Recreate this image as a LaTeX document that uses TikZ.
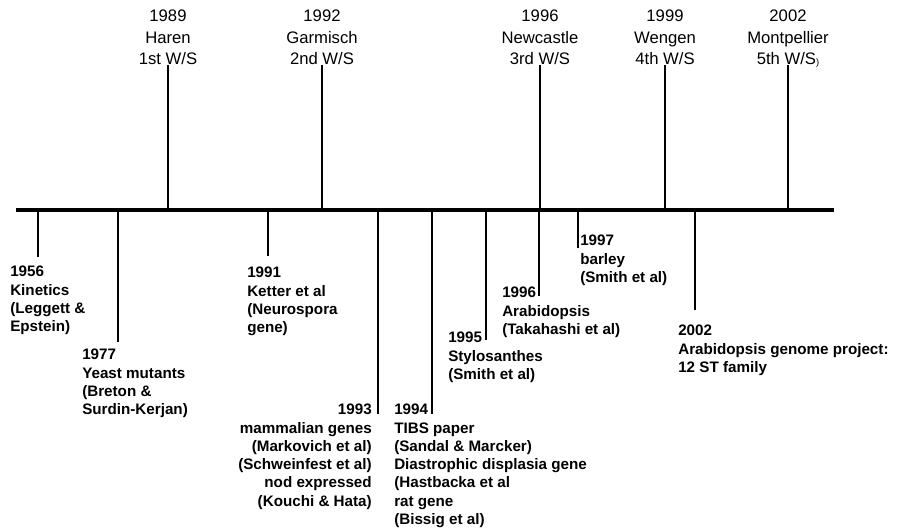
\documentclass[tikz,border=0pt]{standalone}
\usepackage{fontspec}
\setmainfont{Liberation Sans}
\begin{document}
\begin{tikzpicture}[
  x=0.75pt, y=-0.75pt,
  axis/.style = {line width=2.3pt},
  tick/.style = {line width=2pt},
  every node/.style = {inner sep=0pt},
  meeting/.style = {anchor=south, align=center, font=\fontsize{12.5}{16}\selectfont},
  event/.style = {anchor=north west, align=left, font=\bfseries\fontsize{11.4}{13.7}\selectfont}
]
  \useasboundingbox (0,0) rectangle (898,531);
  \coordinate (axL) at (16,210);
  \coordinate (axR) at (834,210);
  \draw[axis] (axL) -- (axR);

  \node[meeting] (w89) at (168,65) {1989\\Haren\\1st W/S};
  \node[meeting] (w92) at (322,65) {1992\\Garmisch\\2nd W/S};
  \node[meeting] (w96) at (540,65) {1996\\Newcastle\\3rd W/S};
  \node[meeting] (w99) at (665,65) {1999\\Wengen\\4th W/S};
  \node[meeting] (w02) at (788,65) {2002\\Montpellier\\5th W/S\raisebox{-1pt}[0pt][0pt]{\scriptsize)}};
  \foreach \w in {w89,w92,w96,w99,w02}
    \draw[tick] (\w.south) -- (\w.south |- axL);

  \foreach \n/\x/\y in {56/38/257, 77/118/342, 91/268/256, 93/378/414, 94/432/414,
                        95/486/340, 96/539/296, 97/578/248, 02/695/310} {
    \coordinate (b\n) at (\x,\y);
    \draw[tick] (b\n |- axL) -- (b\n);
  }

  \node[event] (e56) at (10,266) {1956\\Kinetics\\(Leggett \&\\Epstein)};
  \node[event] (e77) at (82,349) {1977\\Yeast mutants\\(Breton \&\\Surdin-Kerjan)};
  \node[event] (e91) at (247,267) {1991\\Ketter et al\\(Neurospora\\gene)};
  \node[event, anchor=north east, align=right] (e93) at (372,404)
    {1993\\mammalian genes\\(Markovich et al)\\(Schweinfest et al)\\nod expressed\\(Kouchi \& Hata)};
  \node[event] (e94) at (394,404)
    {1994\\TIBS paper\\(Sandal \& Marcker)\\Diastrophic displasia gene\\(Hastbacka et al\\rat gene\\(Bissig et al)};
  \node[event] (e95) at (448,332) {1995\\Stylosanthes\\(Smith et al)};
  \node[event] (e96) at (502,287) {1996\\Arabidopsis\\(Takahashi et al)};
  \node[event] (e97) at (580,235) {1997\\barley\\(Smith et al)};
  \node[event] (e02) at (678,325) {2002\\Arabidopsis genome project:\\12 ST family};
\end{tikzpicture}
\end{document}
